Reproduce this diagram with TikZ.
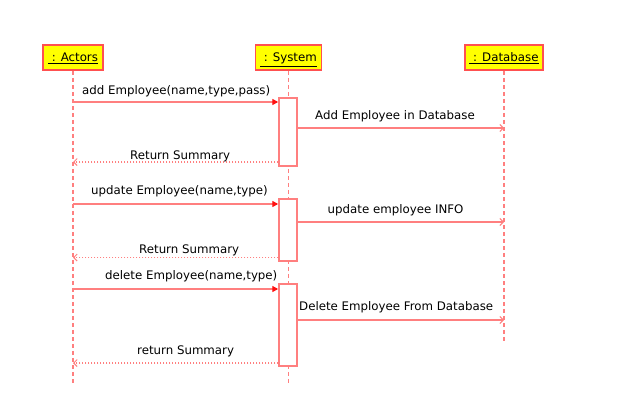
\documentclass[tikz,border=0pt]{standalone}
\usepackage{fontspec}
\setmainfont{DejaVu Sans}
\usetikzlibrary{arrows.meta}
\definecolor{lline}{HTML}{FF7F7F}
\definecolor{hdrborder}{HTML}{FF5050}
\definecolor{hdrfill}{HTML}{FFFF00}
\definecolor{tipred}{HTML}{FF1010}
\begin{document}
\begin{tikzpicture}[x=1pt,y=-1pt,
  every node/.style={font=\fontsize{11.8}{14}\selectfont},
  hdr/.style={draw=hdrborder,line width=1.5pt,fill=hdrfill,inner sep=0pt,minimum height=25pt,text height=11pt,text depth=2pt},
  life/.style={draw=lline,line width=1.5pt,dash pattern=on 4pt off 3pt},
  act/.style={draw=lline,line width=1.5pt,fill=white,minimum width=18pt,inner sep=0pt},
  call/.style={draw=lline,line width=1.3pt,-{Triangle[length=6pt,width=6pt,fill=tipred,color=tipred]}},
  msg/.style={draw=lline,line width=1.3pt,-{Straight Barb[length=3.5pt,width=7pt,line width=1pt]}},
  ret/.style={draw=lline,line width=1.3pt,dash pattern=on 1.5pt off 1.5pt,-{Straight Barb[length=3.5pt,width=7pt,line width=1pt]}},
  lbl/.style={anchor=base west,inner sep=0pt,text=black}
]
\useasboundingbox (0,0) rectangle (629,412);

% header boxes
\node[hdr,minimum width=60pt] (actors) at (73,57.5) {\underline{\ : Actors}};
\node[hdr,minimum width=66pt] (system) at (288.5,57.5) {\underline{\ : System}};
\node[hdr,minimum width=78pt] (db) at (504,57.5) {\underline{\ : Database}};

% lifeline ends
\coordinate (actEnd) at (73,385);
\coordinate (sysEnd) at (288.5,384);
\coordinate (dbEnd) at (504,342);
\draw[life] (actors.south) -- (actEnd);
\draw[life] (system.south) -- (sysEnd);
\draw[life] (db.south) -- (dbEnd);

% activation bars
\node[act,minimum height=68pt] (a1) at (288,132) {};
\node[act,minimum height=62pt] (a2) at (288,230) {};
\node[act,minimum height=82pt] (a3) at (288,325) {};

% message anchor points
\coordinate (m1s) at (73,102);   \coordinate (m1e) at (a1.west |- 0,102);
\coordinate (m2s) at (a1.east |- 0,128); \coordinate (m2e) at (504,128);
\coordinate (m3s) at (a1.west |- 0,162); \coordinate (m3e) at (73,162);
\coordinate (m4s) at (73,204);   \coordinate (m4e) at (a2.west |- 0,204);
\coordinate (m5s) at (a2.east |- 0,222); \coordinate (m5e) at (504,222);
\coordinate (m6s) at (a2.west |- 0,257.5); \coordinate (m6e) at (73,257.5);
\coordinate (m7s) at (73,289);   \coordinate (m7e) at (a3.west |- 0,289);
\coordinate (m8s) at (a3.east |- 0,320); \coordinate (m8e) at (504,320);
\coordinate (m9s) at (a3.west |- 0,363); \coordinate (m9e) at (73,363);

\draw[call] (m1s) -- (m1e);
\draw[msg]  (m2s) -- (m2e);
\draw[ret]  (m3s) -- (m3e);
\draw[call] (m4s) -- (m4e);
\draw[msg]  (m5s) -- (m5e);
\draw[ret]  (m6s) -- (m6e);
\draw[call] (m7s) -- (m7e);
\draw[msg]  (m8s) -- (m8e);
\draw[ret]  (m9s) -- (m9e);

% labels
\node[lbl] (l1) at (82,94.5) {add Employee(name,type,pass)};
\node[lbl] (l2) at (315,119.5) {Add Employee in Database};
\node[lbl] (l3) at (130,159) {Return Summary};
\node[lbl] (l4) at (91,194.5) {update Employee(name,type)};
\node[lbl] (l5) at (327.5,213) {update employee INFO};
\node[lbl] (l6) at (139,253) {Return Summary};
\node[lbl] (l7) at (105,279.5) {delete Employee(name,type)};
\node[lbl] (l8) at (299,310.5) {Delete Employee From Database};
\node[lbl] (l9) at (137,354.5) {return Summary};
\end{tikzpicture}
\end{document}
